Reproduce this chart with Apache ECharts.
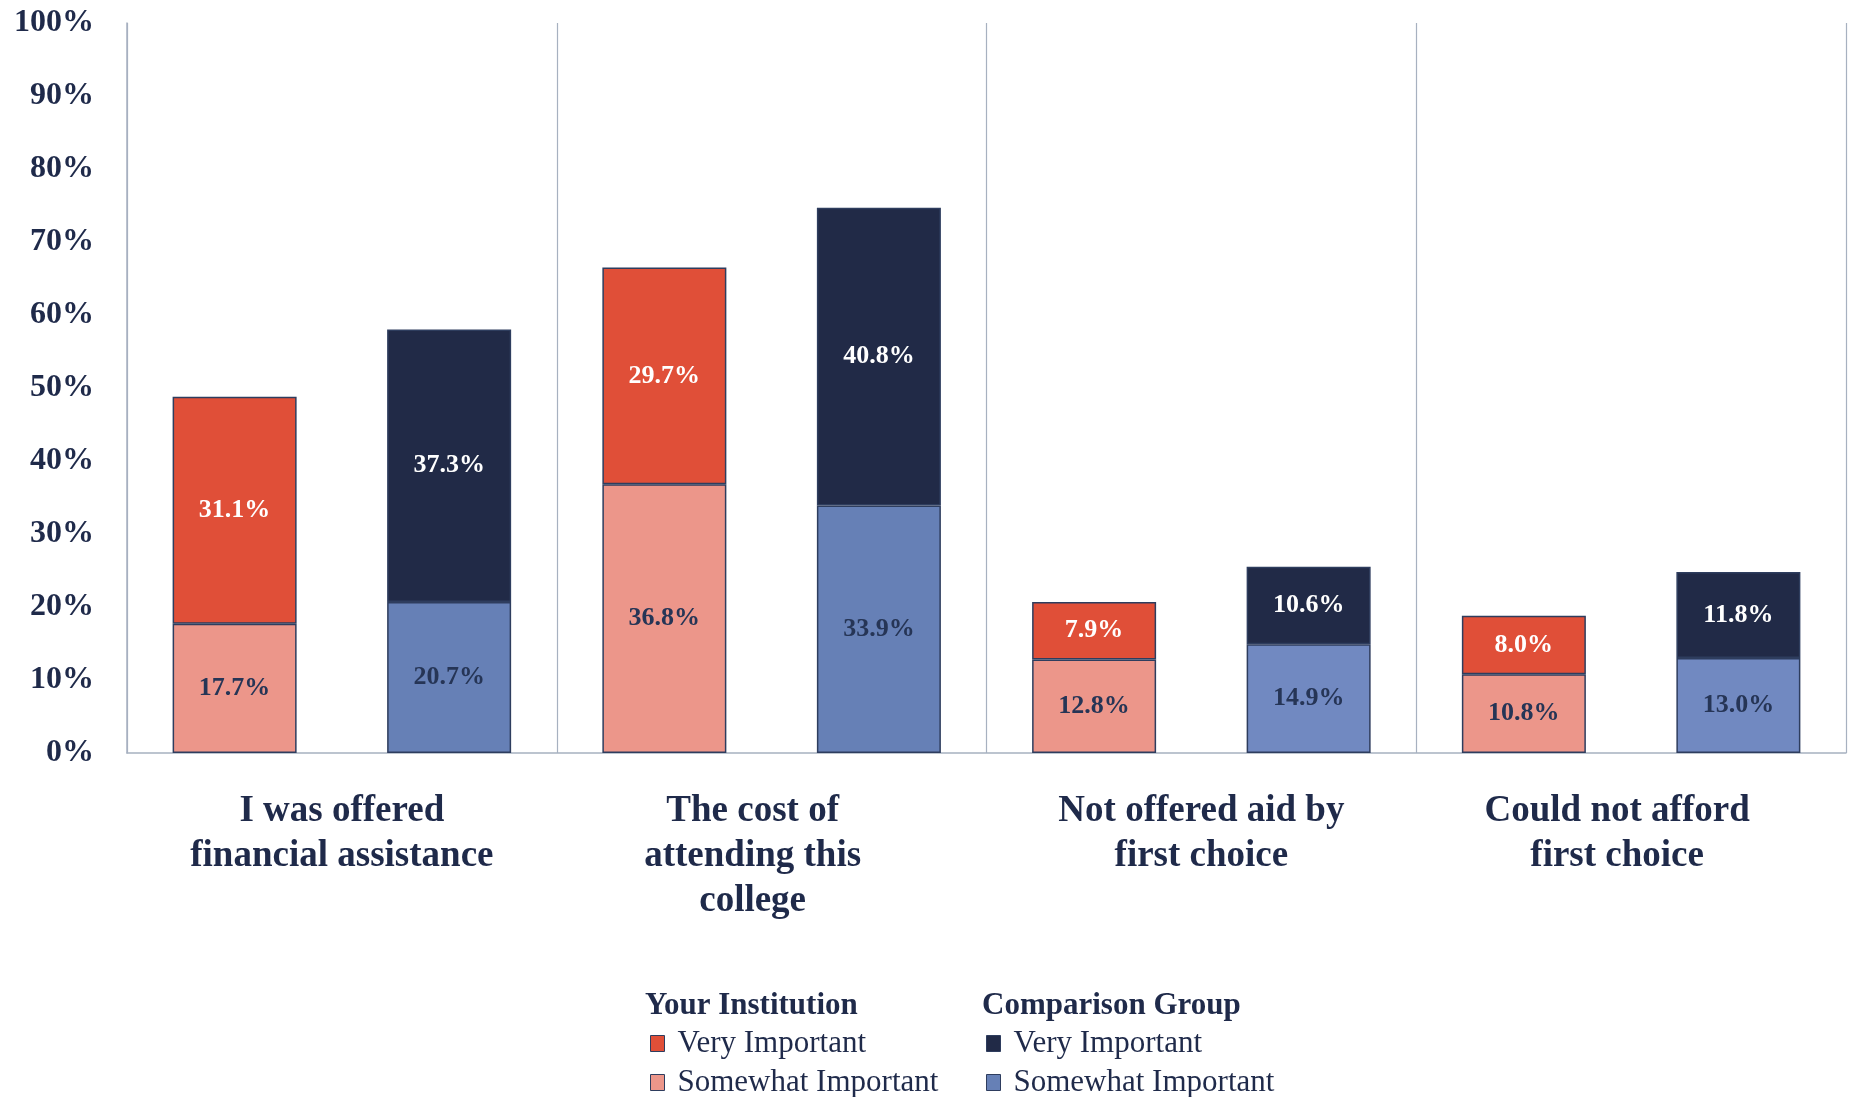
<!DOCTYPE html>
<html>
<head>
<meta charset="utf-8">
<script src="https://cdn.jsdelivr.net/npm/echarts@6/dist/echarts.min.js"></script>
<style>
html,body{margin:0;padding:0;background:#fff;}
#chart{width:1850px;height:1097px;}
</style>
</head>
<body>
<div id="chart"></div>
<script>
// ---- Data ----
const categories = [
  "I was offered\nfinancial assistance",
  "The cost of\nattending this\ncollege",
  "Not offered aid by\nfirst choice",
  "Could not afford\nfirst choice"
];
const yourSomewhat = [17.7, 36.8, 12.8, 10.8];
const yourVery = [31.1, 29.7, 7.9, 8.0];
const compSomewhat = [20.7, 33.9, 14.9, 13.0];
const compVery = [37.3, 40.8, 10.6, 11.8];
const yTicks = { min: 0, max: 100, interval: 10 };
const groupNames = ["Your Institution", "Comparison Group"];
const levelNames = ["Very Important", "Somewhat Important"];

// ---- Styles ----
const FONT = "'Liberation Serif', 'DejaVu Serif', serif";
const NAVY = "#1F2A4A";
const BORDER = "#2E3D5E";
const AXIS = "#A7B1C0";
const COLORS = {
  yv: "#E04F38", ys: "#EC968A",
  cv: "#212A47", cs: "#6680B6", cs2: "#7189C1"
};
// horizontal nudge (right padding) of category labels, matching reference wrap
const catPad = [0, 38, 0, 28];

const SEP = " \u2013 ";
const sName = (g, l) => groupNames[g] + SEP + levelNames[l];

function labelCfg(color) {
  return {
    show: true,
    position: "inside",
    color: color,
    fontFamily: FONT,
    fontWeight: "bold",
    fontSize: 26,
    formatter: p => p.value.toFixed(1) + "%"
  };
}

const catRich = {};
catPad.forEach((p, i) => {
  catRich["c" + i] = {
    color: NAVY, fontFamily: FONT, fontWeight: "bold", fontSize: 37,
    lineHeight: 45, padding: [0, p, 0, 0]
  };
});

function legendItem(g, l, left, top, color) {
  return {
    orient: "horizontal", left: left, top: top, padding: 0,
    icon: "rect", itemWidth: 14, itemHeight: 16,
    textStyle: { color: NAVY, fontFamily: FONT, fontSize: 31, padding: [0, 0, 0, 8] },
    data: [{ name: sName(g, l), itemStyle: { color: color, borderColor: BORDER, borderWidth: 1 } }],
    formatter: n => n.split(SEP)[1],
    selectedMode: false
  };
}

const chart = echarts.init(document.getElementById("chart"));
chart.setOption({
  animation: false,
  textStyle: { fontFamily: FONT },
  grid: { left: 127, right: 4, top: 23, bottom: 344, containLabel: false },
  xAxis: {
    type: "category",
    data: categories,
    axisLine: { show: true, lineStyle: { color: AXIS, width: 1.5 } },
    axisTick: { show: false },
    splitLine: { show: true, lineStyle: { color: AXIS, width: 1.2 } },
    axisLabel: {
      color: NAVY, fontFamily: FONT, fontWeight: "bold", fontSize: 37,
      lineHeight: 45, margin: 36, interval: 0,
      formatter: (v, i) => v.split("\n").map(line => "{c" + i + "|" + line + "}").join("\n"),
      rich: catRich
    }
  },
  yAxis: {
    type: "value",
    min: yTicks.min, max: yTicks.max, interval: yTicks.interval,
    axisLine: { show: true, lineStyle: { color: AXIS, width: 1.5 } },
    axisTick: { show: false },
    splitLine: { show: false },
    axisLabel: {
      color: NAVY, fontFamily: FONT, fontWeight: "bold", fontSize: 32,
      margin: 33, formatter: "{value}%"
    }
  },
  legend: [
    legendItem(0, 0, 650, 1028, COLORS.yv),
    legendItem(0, 1, 650, 1067, COLORS.ys),
    legendItem(1, 0, 986, 1028, COLORS.cv),
    legendItem(1, 1, 986, 1067, COLORS.cs)
  ],
  graphic: [
    { type: "text", left: 645, top: 990,
      style: { text: groupNames[0], fill: NAVY, font: "bold 31px " + FONT } },
    { type: "text", left: 982, top: 990,
      style: { text: groupNames[1], fill: NAVY, font: "bold 31px " + FONT } }
  ],
  series: [
    {
      name: sName(0, 1), type: "bar", stack: "yi", data: yourSomewhat,
      barWidth: 124, barGap: "73%",
      itemStyle: { color: COLORS.ys, borderColor: BORDER, borderWidth: 1.5 },
      label: labelCfg("#263556")
    },
    {
      name: sName(0, 0), type: "bar", stack: "yi", data: yourVery,
      barWidth: 124, barGap: "73%",
      itemStyle: { color: COLORS.yv, borderColor: BORDER, borderWidth: 1.5 },
      label: labelCfg("#FFFFFF")
    },
    {
      name: sName(1, 1), type: "bar", stack: "cg", data: compSomewhat,
      barWidth: 124, barGap: "73%",
      itemStyle: {
        color: p => (p.dataIndex < 2 ? COLORS.cs : COLORS.cs2),
        borderColor: BORDER, borderWidth: 1.5
      },
      label: labelCfg("#263556")
    },
    {
      name: sName(1, 0), type: "bar", stack: "cg", data: compVery,
      barWidth: 124, barGap: "73%",
      itemStyle: { color: COLORS.cv, borderColor: BORDER, borderWidth: 1.5 },
      label: labelCfg("#FFFFFF")
    }
  ]
});
</script>
</body>
</html>
